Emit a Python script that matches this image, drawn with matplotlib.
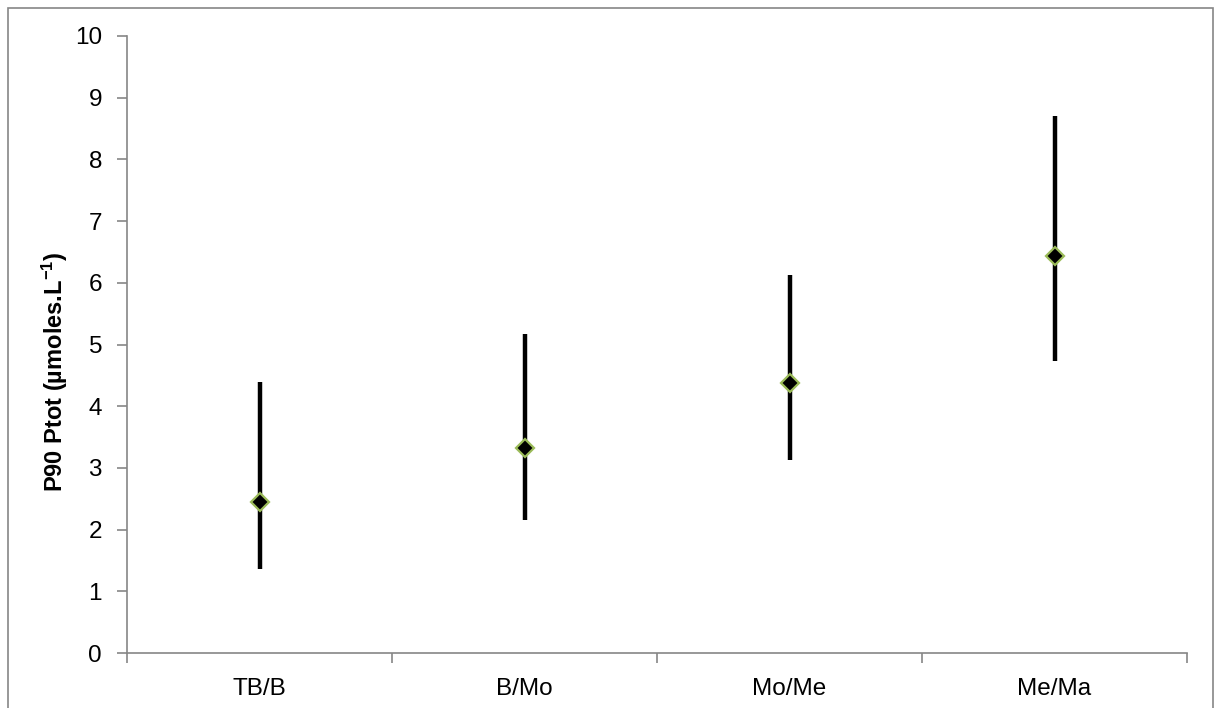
import matplotlib
matplotlib.use('Agg')
import matplotlib.pyplot as plt
from matplotlib.patches import Rectangle

# values
categories = ['TB/B', 'B/Mo', 'Mo/Me', 'Me/Ma']
p90_mid = [2.44, 3.33, 4.38, 6.43]
p90_low = [1.36, 2.15, 3.13, 4.74]
p90_high = [4.39, 5.17, 6.12, 8.71]

plt.rcParams['font.family'] = ['Liberation Sans', 'DejaVu Sans']
plt.rcParams['mathtext.default'] = 'regular'

fig = plt.figure(figsize=(12.14, 7.08), dpi=100)
ax = fig.add_axes([127 / 1214, 55 / 708, 1060 / 1214, 617 / 708])

# outer chart border
fig.patches.append(Rectangle((8 / 1214, -0.01), 1205 / 1214, 700 / 708 + 0.01,
                             transform=fig.transFigure, fill=False,
                             edgecolor='#868686', linewidth=1.2))

xs = [i + 0.5 for i in range(len(categories))]
ax.vlines(xs, p90_low, p90_high, color='black', linewidth=3.2, zorder=2)
ax.plot(xs, p90_mid, linestyle='none', marker='D', markersize=9,
        markerfacecolor='black', markeredgecolor='#9BBB59',
        markeredgewidth=1.6, zorder=3)

ax.set_xlim(0, len(categories))
ax.set_ylim(0, 10)
ax.set_yticks(range(0, 11))

ax.set_xticks(range(0, len(categories) + 1))
ax.set_xticklabels([])
ax.set_xticks(xs, minor=True)
ax.set_xticklabels(categories, minor=True)
ax.tick_params(axis='x', which='minor', length=0, pad=18, labelsize=17.5)
ax.tick_params(axis='x', which='major', length=7, width=1.2, color='#868686',
               direction='out')
ax.tick_params(axis='y', length=7, width=1.2, color='#868686', labelsize=17.5,
               pad=11)

for side in ['top', 'right']:
    ax.spines[side].set_visible(False)
for side in ['left', 'bottom']:
    ax.spines[side].set_color('#868686')
    ax.spines[side].set_linewidth(1.2)

ax.set_ylabel('P90 Ptot (µmoles.L$^{-1}$)', fontsize=17, fontweight='bold')
ax.yaxis.label.set_va('center')
ax.yaxis.set_label_coords(-0.068, 0.455)

fig.savefig('out.png', dpi=100)
